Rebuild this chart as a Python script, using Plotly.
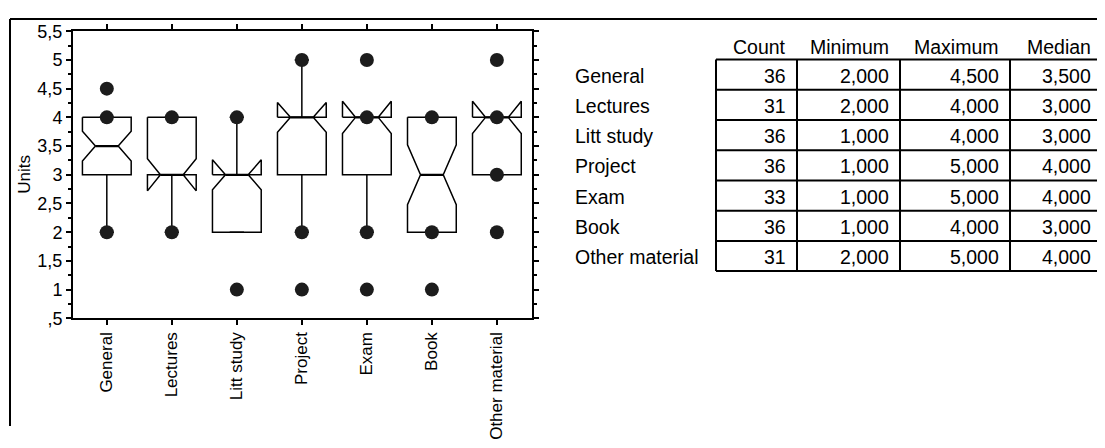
import plotly.graph_objects as go

# ---- data ----
categories = ["General", "Lectures", "Litt study", "Project", "Exam", "Book", "Other material"]
q1 = [3, 3, 2, 3, 3, 2, 3]
medians = [3.5, 3, 3, 4, 4, 3, 4]
q3 = [4, 4, 3, 4, 4, 4, 4]
notch_half = [0.26, 0.28, 0.26, 0.26, 0.28, 0.52, 0.28]
whisker_low = [2, 2, 2, 2, 2, 2, 3]
whisker_high = [4, 4, 4, 5, 4, 4, 4]
point_values = [[4.5, 4, 2], [4, 2], [4, 1], [5, 2, 1], [5, 4, 2, 1], [4, 2, 1], [5, 4, 3, 2]]

y_tickvals = [0.5, 1, 1.5, 2, 2.5, 3, 3.5, 4, 4.5, 5, 5.5]
y_ticktext = [",5", "1", "1,5", "2", "2,5", "3", "3,5", "4", "4,5", "5", "5,5"]

table_columns = ["Count", "Minimum", "Maximum", "Median"]
counts = [36, 31, 36, 36, 33, 36, 31]
minimum = [2, 2, 1, 1, 1, 1, 2]
maximum = [4.5, 4, 4, 5, 5, 4, 5]
median_tbl = [3.5, 3, 3, 4, 4, 3, 4]

# ---- style / layout constants ----
# page body has an 8px margin: figure placed at (8,8) of the 1105x448 window
OFF = 8
FW, FH = 1097, 432
FONT = "Arial, Liberation Sans, sans-serif"
half_w = 0.375      # half box width (category units)
indent = 0.2        # notch indent
cap_w = 0.11        # whisker cap half width
plot_l, plot_r, plot_t, plot_b = 73, 532, 22, 326   # window pixels


def X(x):
    return (x - OFF) / FW


def Y(y):
    return 1 - (y - OFF) / FH


# box outlines
ox, oy = [], []
mx, my = [], []
wx, wy = [], []
for i in range(len(categories)):
    c = i
    L, R = c - half_w, c + half_w
    m, n = medians[i], notch_half[i]
    xs = [L, R, R, R - indent, R, R, L, L, L + indent, L, L]
    ys = [q3[i], q3[i], m + n, m, m - n, q1[i], q1[i], m - n, m, m + n, q3[i]]
    ox += xs + [None]
    oy += ys + [None]
    mx += [L + indent, R - indent, None]
    my += [m, m, None]
    if whisker_low[i] < q1[i]:
        wx += [c, c, None]
        wy += [q1[i], whisker_low[i], None]
    if whisker_high[i] > q3[i]:
        wx += [c, c, None]
        wy += [q3[i], whisker_high[i], None]
    wx += [c - cap_w, c + cap_w, None, c - cap_w, c + cap_w, None]
    wy += [whisker_low[i], whisker_low[i], None, whisker_high[i], whisker_high[i], None]

pts_x, pts_y = [], []
for i, vals in enumerate(point_values):
    for v in vals:
        pts_x.append(i)
        pts_y.append(v)

fig = go.Figure()
fig.add_trace(go.Scatter(x=wx, y=wy, mode="lines", line=dict(color="black", width=1.5),
                         hoverinfo="skip", showlegend=False))
fig.add_trace(go.Scatter(x=ox, y=oy, mode="lines", line=dict(color="black", width=1.5),
                         hoverinfo="skip", showlegend=False))
fig.add_trace(go.Scatter(x=mx, y=my, mode="lines", line=dict(color="black", width=2.2),
                         hoverinfo="skip", showlegend=False))
fig.add_trace(go.Scatter(x=pts_x, y=pts_y, mode="markers",
                         marker=dict(symbol="circle", size=14, color="#1c1c1c",
                                     line=dict(width=0)),
                         showlegend=False))

fig.update_layout(
    width=FW, height=FH, autosize=False,
    margin=dict(l=0, r=0, t=0, b=0),
    paper_bgcolor="white", plot_bgcolor="white",
    font=dict(family=FONT, size=17, color="black"),
    xaxis=dict(
        domain=[X(plot_l), X(plot_r)],
        range=[-0.52, 6.54],
        tickmode="array", tickvals=list(range(len(categories))), ticktext=categories,
        tickangle=-90, ticks="outside", ticklen=5, tickwidth=1.5, tickcolor="black",
        showline=True, linewidth=2, linecolor="black", mirror="ticks",
        showgrid=False, zeroline=False, tickfont=dict(size=17),
    ),
    yaxis=dict(
        domain=[Y(plot_b), Y(plot_t)],
        range=[0.5, 5.5],
        tickmode="array", tickvals=y_tickvals, ticktext=y_ticktext,
        ticks="outside", ticklen=5, tickwidth=1.5, tickcolor="black",
        minor=dict(dtick=0.25, tick0=0.5, ticks="outside", ticklen=3, tickcolor="black",
                   tickwidth=1.5, showgrid=False),
        showline=True, linewidth=2, linecolor="black", mirror="ticks",
        showgrid=False, zeroline=False, tickfont=dict(size=18),
    ),
)

shapes = []
# outer frame (top & left)
shapes.append(dict(type="line", xref="paper", yref="paper", x0=X(10), x1=1.0, y0=Y(9), y1=Y(9),
                   line=dict(color="black", width=2)))
shapes.append(dict(type="line", xref="paper", yref="paper", x0=X(10), x1=X(10), y0=Y(9), y1=0,
                   line=dict(color="black", width=2)))

# table grid
col_edges = [716, 797, 900, 1010, 1102]
row_top, row_h = 52, 32
n_rows = len(categories)
for k in range(n_rows + 1):
    yy = row_top + k * row_h
    shapes.append(dict(type="line", xref="paper", yref="paper", x0=X(col_edges[0]), x1=X(col_edges[-1]),
                       y0=Y(yy), y1=Y(yy), line=dict(color="black", width=2)))
for xe in col_edges:
    shapes.append(dict(type="line", xref="paper", yref="paper", x0=X(xe), x1=X(xe),
                       y0=Y(row_top), y1=Y(row_top + n_rows * row_h), line=dict(color="black", width=2)))

annotations = []
annotations.append(dict(text="Units", xref="paper", yref="paper", x=X(25), y=Y((plot_t + plot_b) / 2),
                        showarrow=False, textangle=-90, font=dict(size=17), xanchor="center", yanchor="middle"))


def fmt(v):
    return f"{v:.3f}".replace(".", ",")


TF = 19.5
for j, name in enumerate(table_columns):
    annotations.append(dict(text=name, xref="paper", yref="paper", x=X(col_edges[j + 1] - 9), y=Y(39),
                            showarrow=False, xanchor="right", yanchor="middle", font=dict(size=TF)))
for i, name in enumerate(categories):
    yc = row_top + i * row_h + row_h / 2 + 1
    annotations.append(dict(text=name, xref="paper", yref="paper", x=X(573), y=Y(yc),
                            showarrow=False, xanchor="left", yanchor="middle", font=dict(size=TF)))
    vals = [str(counts[i]), fmt(minimum[i]), fmt(maximum[i]), fmt(median_tbl[i])]
    for j, v in enumerate(vals):
        annotations.append(dict(text=v, xref="paper", yref="paper", x=X(col_edges[j + 1] - 9), y=Y(yc),
                                showarrow=False, xanchor="right", yanchor="middle", font=dict(size=TF)))

fig.update_layout(shapes=shapes, annotations=annotations)
fig.write_html("out.html")
